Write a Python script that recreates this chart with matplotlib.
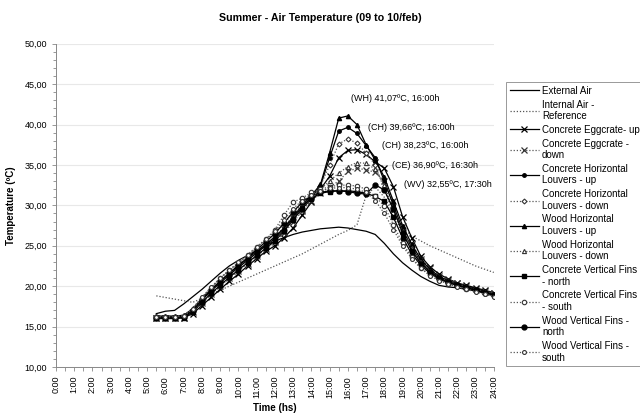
import numpy as np
import matplotlib.pyplot as plt
from matplotlib.ticker import MultipleLocator, FuncFormatter

plt.rcParams['font.family'] = ['Liberation Sans', 'DejaVu Sans']

# half-hourly readings, 5:30 -> 24:00
hours = np.arange(5.5, 24.01, 0.5)

external_air = [16.6, 16.9, 17.0, 17.8, 18.7, 19.6, 20.6, 21.6, 22.5, 23.2, 23.8, 24.4, 25.0,
                25.6, 26.0, 26.4, 26.7, 26.9, 27.1, 27.2, 27.3, 27.2, 27.0, 26.8, 26.4, 25.3,
                24.0, 22.9, 22.0, 21.2, 20.6, 20.1, 19.9, 19.8, 19.6, 19.4, 19.1, 18.8]
internal_ref = [18.8, 18.6, 18.4, 18.2, 18.0, 18.5, 19.0, 19.5, 20.0, 20.5, 21.0, 21.5, 22.0,
                22.5, 23.0, 23.5, 24.0, 24.6, 25.2, 25.8, 26.4, 26.9, 27.6, 31.2, 32.3, 31.0,
                29.0, 27.3, 26.2, 25.6, 25.0, 24.5, 24.0, 23.5, 23.0, 22.5, 22.1, 21.7]
ce_up = [16.0, 16.0, 16.0, 16.1, 16.6, 17.6, 18.6, 19.6, 20.6, 21.5, 22.5, 23.4, 24.3,
         25.0, 26.0, 27.2, 28.8, 30.4, 32.0, 33.6, 35.9, 36.8, 36.9, 36.3, 35.4, 34.6,
         32.3, 28.6, 26.0, 23.7, 22.4, 21.5, 20.9, 20.4, 20.1, 19.8, 19.5, 19.2]
ce_down = [16.0, 16.0, 16.0, 16.1, 16.8, 17.9, 19.0, 20.0, 21.0, 21.9, 22.8, 23.7, 24.6,
           25.5, 26.6, 27.9, 29.3, 30.6, 31.5, 32.3, 33.0, 34.2, 34.6, 34.4, 34.1, 33.0,
           30.5, 27.5, 25.2, 23.4, 22.2, 21.3, 20.8, 20.4, 20.0, 19.7, 19.4, 19.1]
ch_up = [16.2, 16.2, 16.2, 16.3, 17.0, 18.3, 19.4, 20.4, 21.4, 22.3, 23.2, 24.1, 25.0,
         25.9, 27.0, 28.4, 29.8, 31.0, 32.4, 35.9, 39.2, 39.66, 38.9, 37.4, 35.9, 33.0,
         30.0, 27.0, 24.8, 23.0, 21.9, 21.1, 20.6, 20.2, 19.9, 19.6, 19.3, 19.0]
ch_down = [16.2, 16.2, 16.2, 16.3, 17.1, 18.4, 19.5, 20.6, 21.6, 22.5, 23.4, 24.3, 25.2,
           26.1, 27.3, 28.7, 30.1, 31.3, 32.4, 35.0, 37.6, 38.23, 37.7, 36.5, 35.0, 32.0,
           29.0, 26.5, 24.5, 22.9, 21.8, 21.0, 20.5, 20.1, 19.8, 19.5, 19.2, 18.9]
wh_up = [16.3, 16.3, 16.3, 16.4, 17.2, 18.5, 19.6, 20.6, 21.6, 22.5, 23.4, 24.3, 25.2,
         26.1, 27.2, 28.6, 30.0, 31.2, 32.6, 36.5, 40.8, 41.07, 40.0, 37.5, 35.6, 33.5,
         30.5, 27.5, 25.2, 23.3, 22.1, 21.2, 20.7, 20.3, 20.0, 19.7, 19.4, 19.0]
wh_down = [16.3, 16.3, 16.3, 16.4, 17.3, 18.6, 19.8, 20.9, 21.9, 22.8, 23.7, 24.7, 25.7,
           26.7, 27.8, 29.0, 30.3, 31.4, 32.0, 33.0, 34.0, 34.8, 35.3, 35.2, 34.5, 32.5,
           29.5, 26.8, 24.7, 23.0, 21.9, 21.1, 20.6, 20.2, 19.9, 19.6, 19.3, 19.0]
cv_north = [16.0, 16.0, 16.0, 16.1, 16.8, 18.0, 19.1, 20.1, 21.1, 22.0, 22.9, 23.8, 24.7,
            25.6, 26.8, 28.2, 29.6, 30.8, 31.5, 31.7, 31.8, 31.8, 31.7, 31.5, 31.1, 30.5,
            28.5, 26.0, 24.0, 22.6, 21.6, 20.9, 20.4, 20.1, 19.8, 19.5, 19.2, 18.9]
cv_south = [16.1, 16.1, 16.1, 16.2, 17.1, 18.5, 19.8, 21.0, 22.0, 22.8, 23.8, 24.8, 25.8,
            27.0, 28.8, 30.4, 30.9, 31.6, 32.0, 32.3, 32.5, 32.5, 32.4, 32.0, 31.1, 29.9,
            27.6, 25.3, 23.6, 22.3, 21.4, 20.8, 20.3, 20.0, 19.7, 19.4, 19.1, 18.8]
wv_north = [16.1, 16.1, 16.1, 16.2, 17.0, 18.3, 19.5, 20.6, 21.6, 22.6, 23.5, 24.5, 25.5,
            26.5, 27.8, 29.2, 30.4, 31.2, 31.6, 31.8, 31.8, 31.7, 31.5, 31.4, 32.55, 31.9,
            29.5, 26.6, 24.4, 22.8, 21.8, 21.0, 20.5, 20.1, 19.8, 19.5, 19.2, 18.9]
wv_south = [16.2, 16.2, 16.2, 16.3, 17.2, 18.6, 19.9, 21.0, 22.0, 23.0, 23.9, 24.9, 25.8,
            26.8, 28.2, 29.6, 30.6, 31.3, 31.8, 32.1, 32.2, 32.2, 32.0, 31.6, 30.6, 29.0,
            27.0, 25.0, 23.4, 22.2, 21.3, 20.7, 20.3, 19.9, 19.6, 19.3, 19.0, 18.7]

peak_labels = ["(WH) 41,07ºC, 16:00h", "(CH) 39,66ºC, 16:00h", "(CH) 38,23ºC, 16:00h",
               "(CE) 36,90ºC, 16:30h", "(WV) 32,55ºC, 17:30h"]
label_pos = [(16.2, 43.2), (17.1, 39.7), (17.85, 37.4), (18.4, 34.9), (19.1, 32.55)]

fig = plt.figure(figsize=(6.4, 4.17), dpi=100)
ax = fig.add_axes([0.0875, 0.12, 0.684, 0.775])

solid = dict(color='black', lw=0.9, ls='-')
dotted = dict(color='#555555', lw=0.9, ls=(0, (1, 1.5)))

ax.plot(hours, external_air, label='External Air', **solid)
ax.plot(hours, internal_ref, label='Internal Air -\nReference', **dotted)
ax.plot(hours, ce_up, label='Concrete Eggcrate- up', marker='x', ms=5, mew=0.9, mec='black', **solid)
ax.plot(hours, ce_down, label='Concrete Eggcrate -\ndown', marker='x', ms=5, mew=0.9, mec='#333333', **dotted)
ax.plot(hours, ch_up, label='Concrete Horizontal\nLouvers - up', marker='o', ms=2.5, mfc='black', mec='black', **solid)
ax.plot(hours, ch_down, label='Concrete Horizontal\nLouvers - down', marker='D', ms=2.5, mfc='white', mec='#333333', mew=0.8, **dotted)
ax.plot(hours, wh_up, label='Wood Horizontal\nLouvers - up', marker='^', ms=3, mfc='black', mec='black', **solid)
ax.plot(hours, wh_down, label='Wood Horizontal\nLouvers - down', marker='^', ms=3, mfc='white', mec='#333333', mew=0.8, **dotted)
ax.plot(hours, cv_north, label='Concrete Vertical Fins\n- north', marker='s', ms=3, mfc='black', mec='black', **solid)
ax.plot(hours, cv_south, label='Concrete Vertical Fins\n- south', marker='o', ms=3.2, mfc='white', mec='#333333', mew=0.8, **dotted)
ax.plot(hours, wv_north, label='Wood Vertical Fins -\nnorth', marker='o', ms=3.5, mfc='black', mec='black', **solid)
ax.plot(hours, wv_south, label='Wood Vertical Fins -\nsouth', marker='o', ms=2.8, mfc='white', mec='#333333', mew=0.8, **dotted)

for txt, (x, y) in zip(peak_labels, label_pos):
    ax.text(x, y, txt, fontsize=6.5, va='center', ha='left', clip_on=False)

ax.set_xlim(0, 24)
ax.set_ylim(10, 50)
ax.xaxis.set_major_locator(MultipleLocator(1))
ax.xaxis.set_minor_locator(MultipleLocator(0.5))
ax.yaxis.set_major_locator(MultipleLocator(5))
ax.yaxis.set_minor_locator(MultipleLocator(1))
ax.xaxis.set_major_formatter(FuncFormatter(lambda v, p: f"{int(round(v))}:00"))
ax.yaxis.set_major_formatter(FuncFormatter(lambda v, p: f"{v:.2f}".replace('.', ',')))
ax.tick_params(axis='x', which='both', rotation=90, labelsize=6.5, length=3, color='#888888', width=0.6)
ax.tick_params(axis='y', which='major', labelsize=6.5, length=3, color='#888888', width=0.6)
ax.tick_params(axis='y', which='minor', length=2, color='#888888', width=0.6)
ax.grid(axis='y', which='major', color='#e8e8e8', lw=0.8)
ax.set_axisbelow(True)
for s in ['top', 'right']:
    ax.spines[s].set_visible(False)
for s in ['left', 'bottom']:
    ax.spines[s].set_color('#888888')
    ax.spines[s].set_linewidth(0.7)

ax.set_xlabel('Time (hs)', fontsize=7, fontweight='bold', labelpad=3)
ax.set_ylabel('Temperature (ºC)', fontsize=7, fontweight='bold', labelpad=6)
fig.suptitle('Summer - Air Temperature (09 to 10/feb)', fontsize=7.7, fontweight='bold', y=0.968)

leg = fig.legend(loc='upper left', bbox_to_anchor=(506 / 640, 1 - 82 / 417), fontsize=7,
                 handlelength=3.0, handletextpad=0.3, labelspacing=0.38, borderpad=0.4,
                 borderaxespad=0, fancybox=False, framealpha=1, edgecolor='#999999')
leg.get_frame().set_linewidth(0.7)

fig.savefig('out.png', dpi=100)
